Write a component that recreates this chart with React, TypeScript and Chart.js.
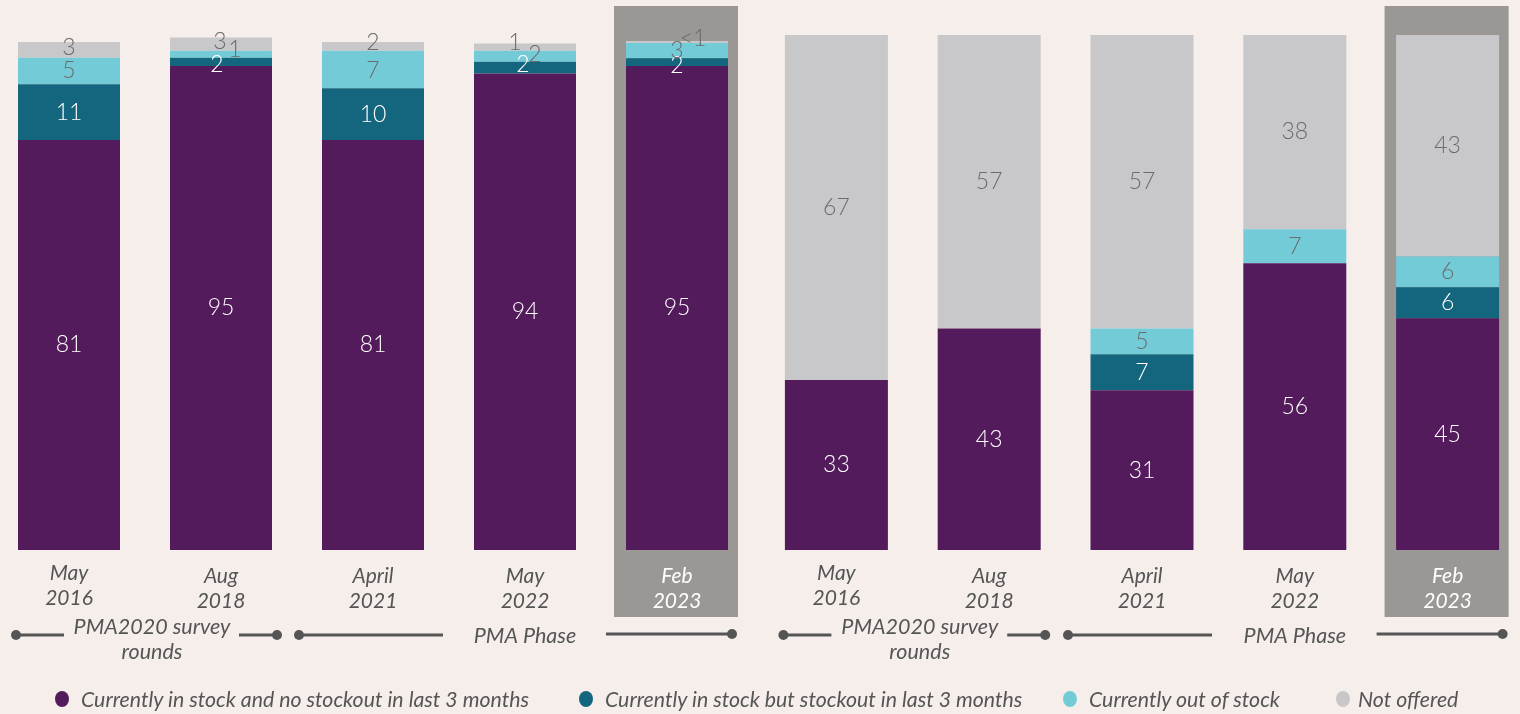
import React, { useEffect, useRef } from "react";
import { Chart, registerables } from "chart.js";

Chart.register(...registerables);

// ---------- data ----------
const ROUND_MONTHS = ["May", "Aug", "April", "May", "Feb"];
const ROUND_YEARS = ["2016", "2018", "2021", "2022", "2023"];
const ROUNDS = ROUND_MONTHS.map((m, i) => `${m} ${ROUND_YEARS[i]}`);

const SERIES_NAMES = [
  "Currently in stock and no stockout in last 3 months",
  "Currently in stock but stockout in last 3 months",
  "Currently out of stock",
  "Not offered",
];

// left panel (%)
const LEFT_NO_STOCKOUT = [80.7, 95.3, 80.7, 93.8, 95.3];
const LEFT_STOCKOUT_3M = [11.0, 1.6, 10.2, 2.3, 1.5];
const LEFT_OUT_OF_STOCK = [5.2, 1.4, 7.4, 2.2, 3.0];
const LEFT_NOT_OFFERED = [3.1, 2.6, 1.7, 1.4, 0.4];

// right panel (%)
const RIGHT_NO_STOCKOUT = [33, 43, 31, 55.7, 45];
const RIGHT_STOCKOUT_3M = [0, 0, 7, 0, 6];
const RIGHT_OUT_OF_STOCK = [0, 0, 5, 6.6, 6];
const RIGHT_NOT_OFFERED = [67, 57, 57, 37.7, 43];

const SURVEY_LABEL = ["PMA2020 survey", "rounds"];
const PHASE_LABEL = "PMA Phase";
const HIGHLIGHT_INDEX = 4;

// ---------- styles ----------
const BG = "#f5eeeb";
const COLORS = ["#531b5b", "#14667e", "#74cbd8", "#c8c8ca"];
const LABEL_COLORS = ["#ffffff", "#ffffff", "#6b6b6b", "#6b6b6b"];
const HIGHLIGHT = "#9b9794";
const INK = "#555555";
const FONT = "Lato, 'Open Sans', sans-serif";

const fmt = (v: number) => (v < 1 ? "<1" : String(Math.round(v)));

type Panel = {
  series: number[][];
  top: number;
  left: number;
  width: number;
  barPct: number;
  nudges: Record<string, [number, number]>;
};

const LEFT_PANEL: Panel = {
  series: [LEFT_NO_STOCKOUT, LEFT_STOCKOUT_3M, LEFT_OUT_OF_STOCK, LEFT_NOT_OFFERED],
  top: 42,
  left: -7,
  width: 760,
  barPct: 0.671,
  nudges: {
    "3-0": [0, -2],
    "1-1": [-4, 3],
    "2-1": [14, -5],
    "3-1": [-1, -2],
    "2-2": [0, 1],
    "3-2": [0, -4],
    "1-3": [-2, -3],
    "2-3": [10, -2],
    "3-3": [-10, -5],
    "1-4": [0, 4],
    "3-4": [16, -3],
  },
};

const RIGHT_PANEL: Panel = {
  series: [RIGHT_NO_STOCKOUT, RIGHT_STOCKOUT_3M, RIGHT_OUT_OF_STOCK, RIGHT_NOT_OFFERED],
  top: 35,
  left: 760,
  width: 764,
  barPct: 0.674,
  nudges: {},
};

const CANVAS_H = 714;
const PLOT_BOTTOM = 550;

function drawDot(ctx: CanvasRenderingContext2D, x: number, y: number) {
  ctx.beginPath();
  ctx.arc(x, y, 5, 0, Math.PI * 2);
  ctx.fill();
}

function drawLine(ctx: CanvasRenderingContext2D, x1: number, x2: number, y: number) {
  ctx.beginPath();
  ctx.moveTo(x1, y);
  ctx.lineTo(x2, y);
  ctx.stroke();
}

function makeDecor(panel: Panel) {
  return {
    id: "decor",
    beforeDatasetsDraw(chart: any) {
      const ctx = chart.ctx as CanvasRenderingContext2D;
      const x = chart.scales.x.getPixelForValue(HIGHLIGHT_INDEX);
      ctx.save();
      ctx.fillStyle = HIGHLIGHT;
      ctx.fillRect(x - 63, 6, 124, 611);
      ctx.restore();
    },
    afterDatasetsDraw(chart: any) {
      const ctx = chart.ctx as CanvasRenderingContext2D;
      const xs = chart.scales.x;
      ctx.save();
      // value labels
      ctx.textAlign = "center";
      ctx.textBaseline = "middle";
      ctx.font = `300 23px ${FONT}`;
      chart.data.datasets.forEach((ds: any, di: number) => {
        const meta = chart.getDatasetMeta(di);
        meta.data.forEach((el: any, i: number) => {
          const v = ds.data[i];
          if (!v) return;
          const p = el.getProps(["x", "y", "base"], true);
          const n = panel.nudges[`${di}-${i}`] || [0, 0];
          ctx.fillStyle = LABEL_COLORS[di];
          ctx.fillText(fmt(v), p.x + n[0], (p.y + p.base) / 2 + n[1]);
        });
      });
      // category labels
      ctx.font = `italic 400 21px ${FONT}`;
      for (let i = 0; i < ROUNDS.length; i++) {
        const x = xs.getPixelForValue(i);
        ctx.fillStyle = i === HIGHLIGHT_INDEX ? "#ffffff" : INK;
        const dy = i === 0 ? -3 : 0;
        ctx.fillText(ROUND_MONTHS[i], x, 576 + dy);
        ctx.fillText(ROUND_YEARS[i], x, 601 + dy);
      }
      // brackets
      const c = [0, 1, 2, 3, 4].map((i) => xs.getPixelForValue(i));
      const y = 635;
      ctx.strokeStyle = INK;
      ctx.fillStyle = INK;
      ctx.lineWidth = 3;
      drawDot(ctx, c[0] - 53, y);
      drawLine(ctx, c[0] - 53, c[0] - 5, y);
      drawLine(ctx, c[1] + 18, c[1] + 56, y);
      drawDot(ctx, c[1] + 56, y);
      const mid = (c[0] + c[1]) / 2 + 7;
      ctx.font = `italic 400 21.5px ${FONT}`;
      ctx.fillText(SURVEY_LABEL[0], mid, 627);
      ctx.fillText(SURVEY_LABEL[1], mid, 652);
      drawDot(ctx, c[2] - 74, y);
      drawLine(ctx, c[2] - 74, c[2] + 70, y);
      ctx.fillText(PHASE_LABEL, c[3], 636);
      drawLine(ctx, c[4] - 71, c[4] + 55, y - 1);
      drawDot(ctx, c[4] + 55, y - 1);
      ctx.restore();
    },
  };
}

function StockPanel({ panel }: { panel: Panel }) {
  const ref = useRef<HTMLCanvasElement | null>(null);
  useEffect(() => {
    if (!ref.current) return;
    const chart = new Chart(ref.current, {
      type: "bar",
      data: {
        labels: ROUNDS,
        datasets: panel.series.map((d, i) => ({
          label: SERIES_NAMES[i],
          data: d,
          backgroundColor: COLORS[i],
          borderWidth: 0,
          barPercentage: panel.barPct,
          categoryPercentage: 1,
          clip: false as any,
        })),
      },
      options: {
        animation: false,
        responsive: false,
        devicePixelRatio: 1,
        layout: {
          padding: { top: panel.top, bottom: CANVAS_H - PLOT_BOTTOM, left: 0, right: 0 },
        },
        plugins: { legend: { display: false }, tooltip: { enabled: false } },
        scales: {
          x: { stacked: true, display: false },
          y: { stacked: true, display: false, min: 0, max: 100 },
        },
      },
      plugins: [makeDecor(panel)],
    });
    return () => chart.destroy();
  }, [panel]);
  return (
    <canvas
      ref={ref}
      width={panel.width}
      height={CANVAS_H}
      style={{ position: "absolute", left: panel.left, top: 0 }}
    />
  );
}

const LEGEND_X = [62, 586, 1070, 1343];

export default function App() {
  return (
    <div
      style={{
        position: "fixed",
        left: 0,
        top: 0,
        width: 1520,
        height: 714,
        background: BG,
        overflow: "hidden",
      }}
    >
      <StockPanel panel={LEFT_PANEL} />
      <StockPanel panel={RIGHT_PANEL} />
      {SERIES_NAMES.map((name, i) => (
        <div
          key={name}
          style={{
            position: "absolute",
            left: LEGEND_X[i] - 7,
            top: 687,
            height: 24,
            display: "flex",
            alignItems: "center",
            whiteSpace: "nowrap",
            fontFamily: FONT,
            fontStyle: "italic",
            fontSize: 21.3,
            color: INK,
          }}
        >
          <span
            style={{
              display: "inline-block",
              width: 14,
              height: 16,
              borderRadius: "50%",
              background: COLORS[i],
              marginRight: i === 3 ? 8 : 12,
            }}
          />
          {name}
        </div>
      ))}
    </div>
  );
}
